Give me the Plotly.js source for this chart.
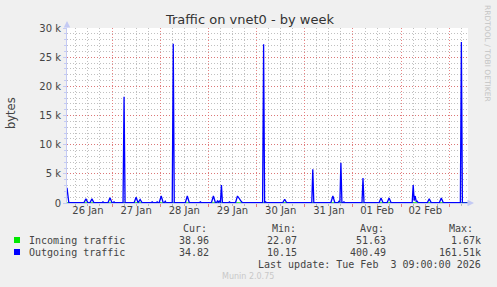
<!DOCTYPE html>
<html><head><meta charset="utf-8">
<script src="https://cdn.plot.ly/plotly-3.0.1.min.js"></script>
<style>html,body{margin:0;padding:0;background:#F0F0F0;}#chart{width:497px;height:287px;}</style>
</head><body><div id="chart"></div>
<script>
// ---------- data ----------
const outTimes = [
'2026-01-26 01:35','2026-01-26 02:00','2026-01-26 02:30','2026-01-26 10:00','2026-01-26 11:00','2026-01-26 12:00',
'2026-01-26 13:00','2026-01-26 14:00','2026-01-26 15:00','2026-01-26 19:00','2026-01-26 19:30','2026-01-26 20:00',
'2026-01-26 22:00','2026-01-26 23:00','2026-01-27 00:00','2026-01-27 00:30','2026-01-27 01:00','2026-01-27 01:30',
'2026-01-27 05:30','2026-01-27 06:00','2026-01-27 06:30','2026-01-27 11:00','2026-01-27 12:00','2026-01-27 13:00',
'2026-01-27 14:00','2026-01-27 15:00','2026-01-27 19:30','2026-01-27 20:00','2026-01-27 20:30','2026-01-27 22:00',
'2026-01-27 22:30','2026-01-27 23:00','2026-01-27 23:30','2026-01-28 00:30','2026-01-28 01:30','2026-01-28 02:00',
'2026-01-28 02:30','2026-01-28 03:00','2026-01-28 06:00','2026-01-28 06:30','2026-01-28 07:00','2026-01-28 12:30',
'2026-01-28 13:30','2026-01-28 14:30','2026-01-28 19:30','2026-01-28 20:00','2026-01-28 20:30','2026-01-29 01:30',
'2026-01-29 02:30','2026-01-29 03:30','2026-01-29 04:00','2026-01-29 04:30','2026-01-29 05:00','2026-01-29 05:30',
'2026-01-29 06:00','2026-01-29 06:30','2026-01-29 07:00','2026-01-29 10:00','2026-01-29 10:30','2026-01-29 11:00',
'2026-01-29 13:30','2026-01-29 14:30','2026-01-29 15:30','2026-01-29 16:30','2026-01-29 17:00','2026-01-29 20:00',
'2026-01-29 20:30','2026-01-29 21:00','2026-01-29 22:30','2026-01-29 23:00','2026-01-29 23:30','2026-01-30 00:30',
'2026-01-30 01:00','2026-01-30 01:30','2026-01-30 03:00','2026-01-30 03:30','2026-01-30 04:00','2026-01-30 04:30',
'2026-01-30 05:00','2026-01-30 11:00','2026-01-30 11:30','2026-01-30 12:00','2026-01-30 13:00','2026-01-30 14:00',
'2026-01-30 15:00','2026-01-30 16:00','2026-01-30 16:30','2026-01-30 17:00','2026-01-30 19:00','2026-01-30 19:30',
'2026-01-30 20:00','2026-01-30 22:00','2026-01-30 22:30','2026-01-30 23:00','2026-01-31 03:30','2026-01-31 04:00',
'2026-01-31 04:30','2026-01-31 13:00','2026-01-31 14:00','2026-01-31 15:00','2026-01-31 16:30','2026-01-31 17:00',
'2026-01-31 17:30','2026-01-31 18:00','2026-01-31 18:30','2026-01-31 19:00','2026-01-31 19:30','2026-01-31 20:00',
'2026-02-01 04:30','2026-02-01 05:00','2026-02-01 05:30','2026-02-01 13:00','2026-02-01 14:00','2026-02-01 15:00',
'2026-02-01 17:00','2026-02-01 18:00','2026-02-01 19:00','2026-02-02 05:30','2026-02-02 06:00','2026-02-02 06:30',
'2026-02-02 07:00','2026-02-02 07:30','2026-02-02 08:00','2026-02-02 08:30','2026-02-02 13:00','2026-02-02 14:00',
'2026-02-02 15:00','2026-02-02 19:00','2026-02-02 20:00','2026-02-02 21:00','2026-02-03 05:30','2026-02-03 06:00',
'2026-02-03 06:30','2026-02-03 09:18'];
const outValues = [
2600,1300,40,40,700,40,
40,700,40,40,200,40,
40,900,40,40,200,40,
40,18200,40,40,1000,40,
600,40,40,200,40,40,
200,40,40,1200,40,40,
300,40,40,27300,40,40,
1200,40,40,200,40,40,
1200,40,40,350,100,400,
40,3100,40,40,200,40,
40,1200,600,200,40,40,
150,40,40,150,40,40,
150,40,40,27200,40,200,
40,40,100,40,40,650,
40,40,150,40,40,150,
40,40,150,40,40,5800,
40,40,1200,40,40,300,
200,6900,40,40,200,40,
40,4300,40,40,850,40,
40,850,40,40,3100,400,
1200,300,300,40,40,700,
40,40,850,40,40,27600,
40,35];
const inTimes = ['2026-01-26 01:35','2026-01-27 06:00','2026-01-28 06:30','2026-01-29 12:00','2026-01-30 03:30',
'2026-01-31 18:00','2026-02-01 12:00','2026-02-02 06:00','2026-02-03 09:18'];
const inValues = [30,35,32,28,34,30,26,29,39];

const dayLabelTimes = ['2026-01-26 12:00','2026-01-27 12:00','2026-01-28 12:00','2026-01-29 12:00',
'2026-01-30 12:00','2026-01-31 12:00','2026-02-01 12:00','2026-02-02 12:00'];
const dayLabels = ['26 Jan','27 Jan','28 Jan','29 Jan','30 Jan','31 Jan','01 Feb','02 Feb'];
const yTickValues = [0,5000,10000,15000,20000,25000,30000];
const yTickLabels = ['0','5 k','10 k','15 k','20 k','25 k','30 k'];
const seriesNames = ['Incoming traffic','Outgoing traffic'];
const seriesColors = ['#00E800','#0000FF'];
const curValues = ['38.96','34.82'];
const minValues = ['22.07','10.15'];
const avgValues = ['51.63','400.49'];
const maxValues = ['1.67k','161.51k'];
const statHeaders = ['Cur:','Min:','Avg:','Max:'];

// ---------- geometry ----------
const L = 67, R = 468, T = 28, B = 203;
const px = x => (x - L) / (R - L);
const py = y => (B - y) / (B - T);
const MONO = 'DejaVu Sans Mono';
const SANS = 'DejaVu Sans';
const TXT = '#444';
const AXC = '#C4CAF4';
const MGRID = 'rgba(225,100,100,0.8)';
const GRID = 'rgba(150,150,150,0.6)';
const dotted = '1px,2px';

const traces = [
  {x: inTimes, y: inValues, xaxis: 'x', yaxis: 'y', type: 'scatter', mode: 'lines',
   line: {color: seriesColors[0], width: 1}, hoverinfo: 'skip'},
  {x: outTimes, y: outValues, xaxis: 'x2', yaxis: 'y', type: 'scatter', mode: 'lines',
   line: {color: seriesColors[1], width: 1.3}, hoverinfo: 'skip'}
];

const range = ['2026-01-26 01:35', '2026-02-03 09:18'];

const ann = [];
function txt(x, y, s, opts) {
  ann.push(Object.assign({xref: 'paper', yref: 'paper', x: px(x), y: py(y), text: s, showarrow: false,
    xanchor: 'left', yanchor: 'middle', font: {family: MONO, size: 10, color: TXT}}, opts || {}));
}
txt(11, 113, 'bytes', {xanchor: 'center', textangle: -90, font: {family: SANS, size: 11.5, color: TXT}});
txt(488, 53, 'RRDTOOL / TOBI OETIKER', {xanchor: 'center', textangle: 90, font: {family: SANS, size: 7.5, color: '#C4C4C4'}});
const hdrX = [181, 270, 358, 447];
const valRight = [211, 299, 388, 483];
statHeaders.forEach((h, i) => txt(hdrX[i], 228, h));
const rowsY = [240, 252];
seriesNames.forEach((n, r) => {
  txt(26.5, rowsY[r], n);
  [curValues, minValues, avgValues, maxValues].forEach((arr, i) => txt(valRight[i], rowsY[r], arr[r], {xanchor: 'right'}));
});
txt(483, 264, 'Last update: Tue Feb  3 09:00:00 2026', {xanchor: 'right'});
txt(248, 276, 'Munin 2.0.75', {xanchor: 'center', font: {family: SANS, size: 8, color: '#C8C8C8'}});
// axis arrows
ann.push({xref: 'paper', yref: 'paper', x: px(67), y: py(21), ax: 0, ay: 8, text: '', showarrow: true,
  arrowhead: 2, arrowsize: 1.3, arrowwidth: 1, arrowcolor: AXC});
ann.push({xref: 'paper', yref: 'paper', x: px(474), y: py(203), ax: -8, ay: 0, text: '', showarrow: true,
  arrowhead: 2, arrowsize: 1.3, arrowwidth: 1, arrowcolor: AXC});

const shapes = rowsY.map((yy, r) => ({type: 'rect', xref: 'paper', yref: 'paper',
  x0: px(14), x1: px(20), y0: py(yy + 3), y1: py(yy - 3), fillcolor: seriesColors[r], line: {width: 0}}));

const layout = {
  width: 497, height: 287,
  margin: {l: L, r: 497 - R, t: T, b: 287 - B, pad: 0},
  paper_bgcolor: '#F0F0F0', plot_bgcolor: '#FFFFFF',
  showlegend: false,
  title: {text: 'Traffic on vnet0 - by week', xref: 'container', yref: 'container', x: 250 / 497, y: 1 - 19 / 287,
    xanchor: 'center', yanchor: 'middle', font: {family: SANS, size: 13, color: '#333'}},
  xaxis: {type: 'date', range: range, tickmode: 'linear', tick0: '2026-01-27 00:00', dtick: 86400000,
    showticklabels: false, showgrid: true, gridcolor: MGRID, griddash: dotted, gridwidth: 1,
    ticks: 'outside', ticklen: 3, tickcolor: MGRID, tickwidth: 1,
    minor: {tick0: '2026-01-27 00:00', dtick: 21600000, showgrid: true, gridcolor: GRID, griddash: dotted, gridwidth: 1,
      ticks: 'outside', ticklen: 2, tickcolor: GRID},
    showline: true, linecolor: AXC, linewidth: 1, zeroline: false, fixedrange: true},
  xaxis2: {type: 'date', range: range, overlaying: 'x', anchor: 'y', side: 'bottom',
    tickmode: 'array', tickvals: dayLabelTimes, ticktext: dayLabels, ticks: '', showgrid: false, showline: false,
    tickfont: {family: SANS, size: 10, color: TXT}, zeroline: false, fixedrange: true},
  yaxis: {range: [0, 30000], tickmode: 'array', tickvals: yTickValues, ticktext: yTickLabels,
    showgrid: true, gridcolor: MGRID, griddash: dotted, gridwidth: 1,
    ticks: 'outside', ticklen: 3, tickcolor: AXC,
    minor: {dtick: 1000, showgrid: true, gridcolor: GRID, griddash: dotted, gridwidth: 1, ticks: 'outside', ticklen: 2, tickcolor: AXC},
    tickfont: {family: SANS, size: 10, color: TXT},
    showline: true, linecolor: AXC, linewidth: 1, zeroline: false, fixedrange: true},
  annotations: ann,
  shapes: shapes
};
Plotly.newPlot('chart', traces, layout, {staticPlot: true, displayModeBar: false});
</script>
</body></html>
